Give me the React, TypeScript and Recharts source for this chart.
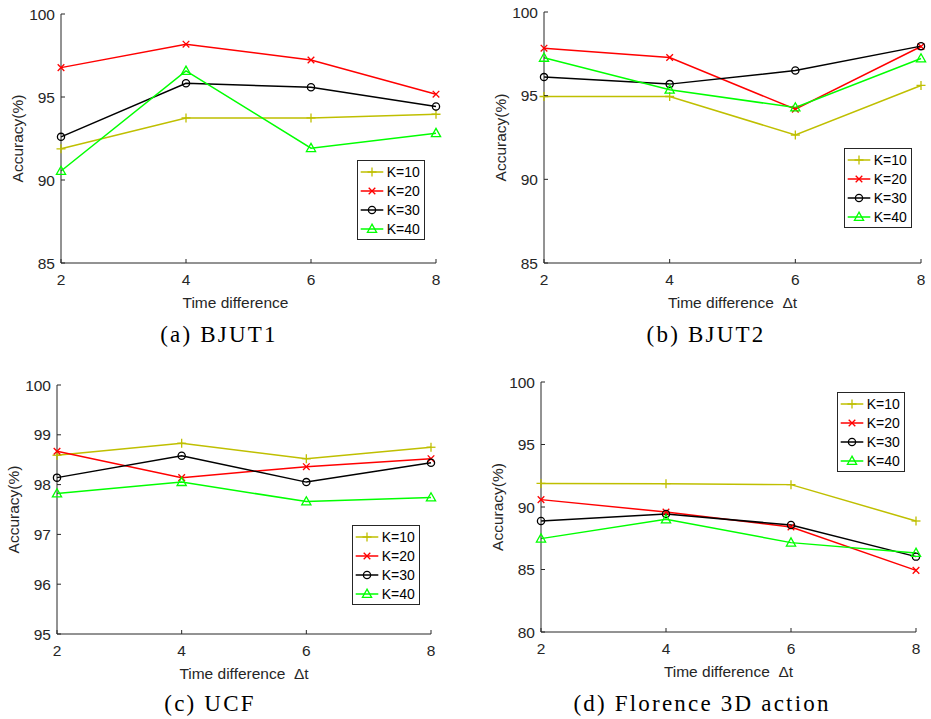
import React from 'react';
import { LineChart, Line, XAxis, YAxis, Legend } from 'recharts';

// ---------- data ----------
const timeDiffs = [2, 4, 6, 8];
const seriesNames = ['K=10', 'K=20', 'K=30', 'K=40'];

const bjut1K10 = [91.88, 93.74, 93.74, 93.96];
const bjut1K20 = [96.77, 98.18, 97.23, 95.17];
const bjut1K30 = [92.6, 95.83, 95.59, 94.43];
const bjut1K40 = [90.54, 96.57, 91.92, 92.82];

const bjut2K10 = [94.95, 94.95, 92.65, 95.61];
const bjut2K20 = [97.84, 97.28, 94.19, 97.94];
const bjut2K30 = [96.11, 95.69, 96.5, 97.96];
const bjut2K40 = [97.26, 95.35, 94.29, 97.22];

const ucfK10 = [98.59, 98.83, 98.52, 98.75];
const ucfK20 = [98.67, 98.14, 98.36, 98.52];
const ucfK30 = [98.14, 98.58, 98.05, 98.44];
const ucfK40 = [97.82, 98.05, 97.66, 97.74];

const florK10 = [91.89, 91.87, 91.79, 88.88];
const florK20 = [90.59, 89.6, 88.4, 84.93];
const florK30 = [88.88, 89.44, 88.56, 86.03];
const florK40 = [87.47, 89.01, 87.15, 86.32];

const xTicks = [2, 4, 6, 8];
const yTicksBjut = [85, 90, 95, 100];
const yTicksUcf = [95, 96, 97, 98, 99, 100];
const yTicksFlor = [80, 85, 90, 95, 100];

const captions = ['(a) BJUT1', '(b) BJUT2', '(c) UCF', '(d) Florence 3D action'];
const xLabelPlain = 'Time difference';
const xLabelDelta = 'Time difference\u00a0\u00a0\u0394t';
const yLabel = 'Accuracy(%)';

// ---------- styles ----------
const seriesColors = ['#BFBF00', '#FF0000', '#000000', '#00FF00'];
const seriesMarkers = ['plus', 'cross', 'circle', 'triangle'];
const AXIS = '#262626';
const SANS = '"Liberation Sans", Arial, Helvetica, sans-serif';
const SERIF = '"Liberation Serif", "Times New Roman", serif';

function buildRows(k10: number[], k20: number[], k30: number[], k40: number[]) {
  return timeDiffs.map((t, i) => ({ t, k10: k10[i], k20: k20[i], k30: k30[i], k40: k40[i] }));
}

function MarkerShape({ cx, cy, kind, color }: any) {
  if (cx == null || cy == null || isNaN(cx) || isNaN(cy)) return null;
  const sw = 1.3;
  if (kind === 'plus') {
    const a = 4.5;
    return (
      <g>
        <line x1={cx - a} x2={cx + a} y1={cy} y2={cy} stroke={color} strokeWidth={sw} />
        <line x1={cx} x2={cx} y1={cy - a} y2={cy + a} stroke={color} strokeWidth={sw} />
      </g>
    );
  }
  if (kind === 'cross') {
    const a = 3.3;
    return (
      <g>
        <line x1={cx - a} x2={cx + a} y1={cy - a} y2={cy + a} stroke={color} strokeWidth={sw} />
        <line x1={cx - a} x2={cx + a} y1={cy + a} y2={cy - a} stroke={color} strokeWidth={sw} />
      </g>
    );
  }
  if (kind === 'circle') {
    return <circle cx={cx} cy={cy} r={3.6} fill="none" stroke={color} strokeWidth={sw} />;
  }
  return (
    <polygon
      points={`${cx},${cy - 4.8} ${cx - 4.6},${cy + 3.4} ${cx + 4.6},${cy + 3.4}`}
      fill="none"
      stroke={color}
      strokeWidth={sw}
    />
  );
}

function YTick(props: any) {
  const { x, y, payload } = props;
  return (
    <g>
      <line x1={x} x2={x + 4} y1={y} y2={y} stroke={AXIS} strokeWidth={1} />
      <text x={x - 6} y={y} dy="0.36em" textAnchor="end" fill={AXIS} fontSize={15.5} fontFamily={SANS}>
        {payload.value}
      </text>
    </g>
  );
}

function XTick(props: any) {
  const { x, y, payload } = props;
  return (
    <g>
      <line x1={x} x2={x} y1={y} y2={y - 4} stroke={AXIS} strokeWidth={1} />
      <text x={x} y={y + 16} dy="0.36em" textAnchor="middle" fill={AXIS} fontSize={15.5} fontFamily={SANS}>
        {payload.value}
      </text>
    </g>
  );
}

function LegendBox(props: any) {
  const payload = props.payload || [];
  return (
    <div
      style={{
        width: 68,
        height: 80,
        border: `1px solid ${AXIS}`,
        background: '#fff',
        boxSizing: 'border-box',
      }}
    >
      <svg width={66} height={78} style={{ display: 'block' }}>
        {payload.map((entry: any, i: number) => {
          const idx = seriesNames.indexOf(entry.value);
          const cy = 11 + 19 * i;
          const color = seriesColors[idx];
          return (
            <g key={entry.value}>
              <line x1={2.7} x2={25.3} y1={cy} y2={cy} stroke={color} strokeWidth={1.5} />
              <MarkerShape cx={14} cy={cy} kind={seriesMarkers[idx]} color={color} />
              <text x={28.7} y={cy} dy="0.36em" fontSize={14} fontFamily={SANS} fill="#000">
                {entry.value}
              </text>
            </g>
          );
        })}
      </svg>
    </div>
  );
}

type PanelProps = {
  x0: number;
  x1: number;
  y0: number;
  y1: number;
  rows: any[];
  domain: [number, number];
  yTicks: number[];
  xLabel: string;
  xLabelDx: number;
  legendX: number;
  legendY: number;
};

const Y_W = 88;
const X_H = 78;
const M_TOP = 10;
const M_RIGHT = 15;

function Panel({ x0, x1, y0, y1, rows, domain, yTicks, xLabel, xLabelDx, legendX, legendY }: PanelProps) {
  const left = x0 - Y_W;
  const top = y0 - M_TOP;
  const width = Y_W + (x1 - x0) + M_RIGHT;
  const height = M_TOP + (y1 - y0) + X_H;
  const keys = ['k10', 'k20', 'k30', 'k40'];
  return (
    <div style={{ position: 'absolute', left, top, width, height }}>
      <LineChart
        width={width}
        height={height}
        data={rows}
        margin={{ top: M_TOP, right: M_RIGHT, bottom: 0, left: 0 }}
      >
        <XAxis
          dataKey="t"
          type="number"
          domain={[2, 8]}
          ticks={xTicks}
          height={X_H}
          tickSize={0}
          tickMargin={0}
          tickLine={false}
          axisLine={{ stroke: AXIS, strokeWidth: 1 }}
          tick={<XTick />}
          interval={0}
          label={{
            value: xLabel,
            position: 'center',
            dx: xLabelDx,
            fill: AXIS,
            fontSize: 15.5,
            fontFamily: SANS,
          }}
        />
        <YAxis
          type="number"
          domain={domain}
          ticks={yTicks}
          width={Y_W}
          tickSize={0}
          tickMargin={0}
          tickLine={false}
          axisLine={{ stroke: AXIS, strokeWidth: 1 }}
          tick={<YTick />}
          interval={0}
          allowDataOverflow
          label={{
            value: yLabel,
            angle: -90,
            position: 'center',
            fill: AXIS,
            fontSize: 15.5,
            fontFamily: SANS,
          }}
        />
        {keys.map((k, i) => (
          <Line
            key={k}
            type="linear"
            dataKey={k}
            name={seriesNames[i]}
            stroke={seriesColors[i]}
            strokeWidth={1.5}
            isAnimationActive={false}
            dot={(p: any) => (
              <MarkerShape
                key={`${k}-${p.index}`}
                cx={p.cx}
                cy={p.cy}
                kind={seriesMarkers[i]}
                color={seriesColors[i]}
              />
            )}
            activeDot={false}
          />
        ))}
        <Legend
          layout="vertical"
          align="center"
          verticalAlign="middle"
          content={<LegendBox />}
          wrapperStyle={{ left: legendX - left, top: legendY - top, width: 68, height: 80 }}
        />
      </LineChart>
    </div>
  );
}

function Caption({ text, cx, top }: { text: string; cx: number; top: number }) {
  return (
    <div
      style={{
        position: 'absolute',
        left: cx,
        top,
        transform: 'translateX(-50%)',
        whiteSpace: 'nowrap',
        fontFamily: SERIF,
        fontSize: 23,
        lineHeight: '23px',
        letterSpacing: '2.2px',
        color: '#000',
      }}
    >
      {text}
    </div>
  );
}

export default function App() {
  return (
    <div
      style={{
        position: 'absolute',
        left: 0,
        top: 0,
        width: 931,
        height: 719,
        background: '#fff',
        overflow: 'hidden',
      }}
    >
      <Panel
        x0={61}
        x1={436}
        y0={14}
        y1={263}
        rows={buildRows(bjut1K10, bjut1K20, bjut1K30, bjut1K40)}
        domain={[85, 100]}
        yTicks={yTicksBjut}
        xLabel={xLabelPlain}
        xLabelDx={-13}
        legendX={357}
        legendY={160}
      />
      <Panel
        x0={544}
        x1={921}
        y0={12}
        y1={263}
        rows={buildRows(bjut2K10, bjut2K20, bjut2K30, bjut2K40)}
        domain={[85, 100]}
        yTicks={yTicksBjut}
        xLabel={xLabelDelta}
        xLabelDx={0}
        legendX={844}
        legendY={148}
      />
      <Panel
        x0={57}
        x1={431}
        y0={385}
        y1={634}
        rows={buildRows(ucfK10, ucfK20, ucfK30, ucfK40)}
        domain={[95, 100]}
        yTicks={yTicksUcf}
        xLabel={xLabelDelta}
        xLabelDx={0}
        legendX={352}
        legendY={525}
      />
      <Panel
        x0={541}
        x1={916}
        y0={382}
        y1={632}
        rows={buildRows(florK10, florK20, florK30, florK40)}
        domain={[80, 100]}
        yTicks={yTicksFlor}
        xLabel={xLabelDelta}
        xLabelDx={0}
        legendX={837}
        legendY={392}
      />
      <Caption text={captions[0]} cx={219} top={323} />
      <Caption text={captions[1]} cx={706} top={323} />
      <Caption text={captions[2]} cx={210} top={692} />
      <Caption text={captions[3]} cx={702} top={692} />
    </div>
  );
}
